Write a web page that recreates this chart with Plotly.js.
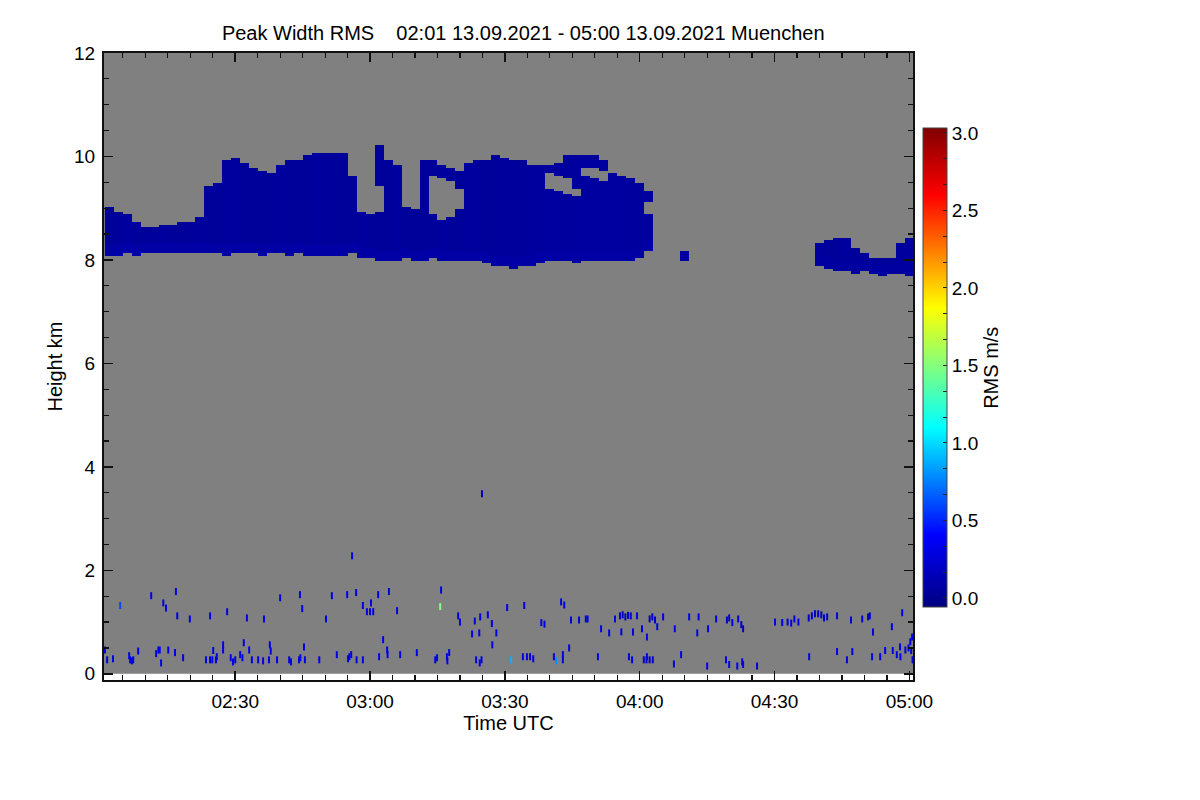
<!DOCTYPE html>
<html>
<head>
<meta charset="utf-8">
<script src="https://cdn.plot.ly/plotly-3.0.1.min.js"></script>
<style>
  html, body { margin: 0; padding: 0; background: #fff; }
  #chart { width: 1200px; height: 800px; }
</style>
</head>
<body>
<div id="chart"></div>
<script>
// time in minutes after 02:00 UTC, heights in km, values in m/s

// cloud layer, one column every 2 minutes (null = no cloud)
var cloudTime = [2,4,6,8,10,12,14,16,18,20,22,24,26,28,30,32,34,36,38,40,
  42,44,46,48,50,52,54,56,58,60,62,64,66,68,70,72,74,76,78,80,
  82,84,86,88,90,92,94,96,98,100,102,104,106,108,110,112,114,116,118,120,
  122,124,126,128,130,132,134,136,138,140,142,144,146,148,150,152,154,156,158,160,
  162,164,166,168,170,172,174,176,178,180];
var cloudTop = [9.02,8.93,8.87,8.74,8.62,8.64,8.66,8.68,8.70,8.72,
  8.80,9.40,9.45,9.94,9.95,9.88,9.78,9.70,9.68,9.84,
  9.90,9.94,10.03,10.07,10.07,10.07,10.05,9.60,8.92,8.88,
  10.20,9.90,9.84,9.00,8.98,9.94,9.90,9.82,9.76,9.72,
  9.88,9.90,9.90,10.03,9.96,9.94,9.90,9.84,9.80,9.84,
  9.86,10.00,10.03,10.03,10.00,9.94,9.68,9.62,9.58,9.46,
  9.32,null,null,null,8.18,null,null,null,null,null,
  null,null,null,null,null,null,null,null,null,8.33,
  8.36,8.43,8.41,8.20,8.10,8.04,8.00,8.02,8.33,8.42];
var cloudBase = [8.08,8.10,8.12,8.08,8.12,8.14,8.12,8.14,8.12,8.14,
  8.12,8.14,8.12,8.10,8.12,8.14,8.12,8.10,8.12,8.14,
  8.10,8.12,8.10,8.08,8.10,8.06,8.10,8.12,8.05,8.02,
  7.98,7.96,8.00,8.02,7.98,8.00,8.02,8.00,7.98,8.00,
  7.96,7.96,7.92,7.90,7.86,7.84,7.86,7.88,7.92,7.96,
  7.98,7.96,7.94,7.96,7.98,7.96,7.98,7.98,8.00,8.02,
  8.20,null,null,null,7.98,null,null,null,null,null,
  null,null,null,null,null,null,null,null,null,7.86,
  7.85,7.80,7.77,7.75,7.76,7.72,7.70,7.72,7.72,7.70];
// clear slots inside the cloud
var gapLo = [null,null,null,null,null,null,null,null,null,null,
  null,null,null,null,null,null,null,null,null,null,
  null,null,null,null,null,null,null,null,null,null,
  8.92,null,null,null,null,null,8.85,8.78,8.82,8.95,
  null,null,null,null,null,null,null,null,null,9.36,
  9.30,9.26,9.20,9.60,9.56,9.52,null,null,null,null,
  8.88,null,null,null,null,null,null,null,null,null,
  null,null,null,null,null,null,null,null,null,null,
  null,null,null,null,null,null,null,null,null,null];
var gapHi = [null,null,null,null,null,null,null,null,null,null,
  null,null,null,null,null,null,null,null,null,null,
  null,null,null,null,null,null,null,null,null,null,
  9.45,null,null,null,null,null,9.65,9.60,9.52,9.40,
  null,null,null,null,null,null,null,null,null,9.70,
  9.64,9.56,9.40,9.80,9.80,9.74,null,null,null,null,
  9.12,null,null,null,null,null,null,null,null,null,
  null,null,null,null,null,null,null,null,null,null,
  null,null,null,null,null,null,null,null,null,null];
// rms inside the cloud and in its lowest 0.2 km
var cloudRms = [0.04,0.04,0.05,0.04,0.04,0.04,0.05,0.04,0.04,0.04,
  0.05,0.04,0.04,0.04,0.05,0.04,0.04,0.04,0.04,0.05,
  0.04,0.04,0.04,0.05,0.04,0.04,0.04,0.04,0.05,0.04,
  0.04,0.04,0.05,0.04,0.04,0.04,0.04,0.05,0.04,0.04,
  0.05,0.04,0.04,0.04,0.05,0.04,0.04,0.05,0.05,0.06,
  0.06,0.05,0.05,0.06,0.06,0.05,0.06,0.06,0.05,0.05,
  0.05,null,null,null,0.05,null,null,null,null,null,
  null,null,null,null,null,null,null,null,null,0.05,
  0.04,0.04,0.05,0.04,0.04,0.05,0.04,0.04,0.05,0.05];
var baseRms = [0.08,0.09,0.08,0.08,0.07,0.07,0.08,0.07,0.07,0.07,
  0.07,0.08,0.07,0.07,0.07,0.08,0.07,0.07,0.07,0.07,
  0.07,0.07,0.07,0.08,0.07,0.07,0.07,0.07,0.07,0.07,
  0.08,0.07,0.07,0.07,0.07,0.07,0.08,0.07,0.07,0.07,
  0.07,0.07,0.07,0.07,0.07,0.08,0.07,0.07,0.07,0.07,
  0.07,0.08,0.07,0.07,0.07,0.07,0.07,0.07,0.07,0.07,
  0.07,null,null,null,0.06,null,null,null,null,null,
  null,null,null,null,null,null,null,null,null,0.06,
  0.06,0.06,0.06,0.06,0.06,0.06,0.06,0.06,0.06,0.06];

// isolated low-level returns
var spTime = [1.0,1.5,2.8,4.4,6.6,7.0,7.3,6.4,8.4,11.3,12.4,12.9,13.2,13.5,14.0,14.6,15.1,16.8,17.1,16.6,
  18.4,19.9,23.5,24.4,24.4,24.9,25.1,25.7,25.9,27.3,27.3,28.2,29.0,29.5,30.0,31.1,31.6,31.9,32.6,33.1,
  33.7,35.1,36.2,36.4,37.5,37.7,37.9,39.3,40.0,42.0,42.4,44.2,44.4,44.5,44.9,45.3,45.5,48.7,50.2,51.5,
  52.6,54.9,55.1,55.4,55.8,56.0,56.9,57.0,58.4,58.4,59.3,60.0,60.7,60.2,61.8,62.0,62.9,63.8,63.9,64.2,
  66.0,66.7,70.4,74.5,74.9,75.6,75.8,77.1,77.6,77.2,79.6,80.0,82.7,83.3,83.6,84.3,84.4,84.8,84.5,84.9,
  86.2,87.1,87.2,88.1,90.5,91.4,94.3,94.0,94.9,95.6,96.3,98.1,98.8,100.9,101.4,102.5,103.2,102.9,102.9,104.3,
  104.7,106.5,108.0,108.4,110.7,111.4,113.2,114.5,115.6,116.2,116.8,117.4,118.0,115.9,117.6,118.3,118.5,119.4,120.5,120.9,
  121.5,122.2,122.9,121.6,121.6,122.2,122.8,123.4,123.9,125.2,127.8,129.2,127.6,131.0,132.8,133.1,135.0,135.2,137.0,139.4,
  139.9,139.2,139.9,140.6,141.7,141.9,142.6,143.0,142.8,143.0,146.1,150.1,151.7,152.9,153.7,155.3,154.4,157.7,157.6,158.3,
  159.0,159.7,160.4,161.0,161.7,163.9,163.9,166.1,167.0,167.3,169.5,170.8,171.2,171.7,171.9,173.5,174.6,176.1,176.3,177.2,
  177.9,178.0,178.4,179.1,179.8,180.2,180.4,180.6,180.7];
var spHeight = [0.46,0.27,0.29,1.32,0.27,0.25,0.27,0.35,0.44,1.51,0.39,0.46,0.46,0.21,1.37,1.27,0.46,1.59,1.12,0.41,
  0.31,1.06,0.27,1.12,0.27,0.27,0.45,0.27,0.33,0.56,0.46,1.20,0.31,0.23,0.27,0.37,0.31,0.60,1.08,0.46,
  0.27,0.27,0.25,1.06,0.27,0.56,0.44,0.27,1.47,0.27,0.23,0.27,1.53,0.31,1.26,0.52,0.27,0.27,1.06,1.51,
  0.37,1.53,0.29,0.33,0.37,2.28,1.57,0.27,1.32,0.27,1.20,1.20,1.20,1.37,1.53,0.33,0.66,0.46,0.37,1.59,
  1.22,0.37,0.41,0.27,0.31,1.30,1.62,0.33,0.41,0.25,1.12,1.00,0.77,1.02,0.27,0.79,0.21,0.27,1.10,3.48,
  1.14,0.97,0.56,0.79,1.28,0.27,1.32,0.33,0.33,0.33,0.29,0.99,0.96,0.33,0.25,1.39,1.33,0.37,0.27,0.50,
  1.04,1.04,1.06,1.06,0.33,0.87,0.79,1.06,1.12,1.14,1.10,1.13,1.12,0.81,0.33,0.27,0.81,1.12,0.87,0.27,
  0.27,0.27,0.27,0.71,0.33,1.06,1.10,1.04,0.91,1.10,0.87,0.37,0.19,1.10,0.79,1.10,0.15,0.87,1.06,1.04,
  1.08,0.27,0.18,0.99,0.15,1.06,0.95,0.87,0.23,0.18,0.15,1.00,0.99,1.00,0.98,1.00,1.06,0.33,1.08,1.12,
  1.16,1.16,1.14,1.08,1.10,0.43,1.12,0.27,1.04,0.43,1.06,1.10,1.12,0.33,0.81,0.33,0.45,0.91,0.45,0.37,
  0.52,0.33,1.18,0.46,0.50,0.62,0.45,0.71,0.27];
var spRms = [0.3,0.3,0.3,0.6,0.3,0.3,0.3,0.3,0.3,0.3,0.3,0.3,0.3,0.3,0.3,0.3,0.3,0.3,0.25,0.3,
  0.3,0.3,0.3,0.3,0.3,0.3,0.3,0.3,0.3,0.3,0.3,0.3,0.3,0.3,0.3,0.3,0.3,0.3,0.3,0.3,
  0.3,0.3,0.3,0.3,0.3,0.3,0.3,0.3,0.3,0.3,0.3,0.3,0.3,0.3,0.3,0.3,0.3,0.3,0.3,0.3,
  0.3,0.3,0.3,0.3,0.3,0.3,0.3,0.3,0.3,0.3,0.3,0.3,0.3,0.3,0.3,0.3,0.3,0.3,0.3,0.3,
  0.3,0.3,0.3,0.3,0.3,1.5,0.3,0.3,0.3,0.3,0.3,0.3,0.3,0.3,0.3,0.3,0.3,0.3,0.3,0.15,
  0.3,0.3,0.3,0.3,0.3,0.9,0.3,0.3,0.3,0.3,0.3,0.3,0.3,0.3,0.8,0.3,0.3,0.3,0.3,0.3,
  0.3,0.3,0.3,0.3,0.3,0.3,0.3,0.3,0.2,0.2,0.2,0.2,0.2,0.3,0.3,0.3,0.3,0.3,0.3,0.2,
  0.2,0.2,0.2,0.3,0.3,0.2,0.2,0.2,0.3,0.3,0.3,0.3,0.3,0.3,0.3,0.3,0.3,0.3,0.3,0.2,
  0.2,0.3,0.3,0.3,0.3,0.3,0.2,0.2,0.3,0.3,0.3,0.3,0.3,0.3,0.3,0.3,0.3,0.3,0.2,0.2,
  0.2,0.2,0.2,0.2,0.2,0.3,0.3,0.3,0.3,0.3,0.3,0.2,0.2,0.3,0.3,0.3,0.3,0.3,0.3,0.3,
  0.3,0.3,0.3,0.3,0.3,0.3,0.3,0.3,0.3];

// axis ticks
var xTickVals = [30, 60, 90, 120, 150, 180];
var xTickText = ['02:30', '03:00', '03:30', '04:00', '04:30', '05:00'];
var yTickVals = [0, 2, 4, 6, 8, 10, 12];
var cbTickVals = [0,0.1667,0.3333,0.5,0.6667,0.8333,1,1.1667,1.3333,1.5,1.6667,1.8333,
  2,2.1667,2.3333,2.5,2.6667,2.8333,3];
var cbTickText = ['0.0','','','0.5','','','1.0','','','1.5','','','2.0','','','2.5','','','3.0'];

// height grid of the cloud image
var heightStep = 0.05;
var heights = [];
for (var k = 0; k <= 56; k++) heights.push(+(7.6 + k * heightStep).toFixed(3));

var z = heights.map(function (h) {
  return cloudTime.map(function (t, j) {
    if (cloudTop[j] === null) return null;
    if (h < cloudBase[j] || h > cloudTop[j]) return null;
    if (gapLo[j] !== null && h > gapLo[j] && h < gapHi[j]) return null;
    return (h < cloudBase[j] + 0.2) ? baseRms[j] : cloudRms[j];
  });
});

var font = 'Liberation Sans, Arial, Helvetica, sans-serif';

var traces = [
  {
    type: 'heatmap',
    x: cloudTime,
    y: heights,
    z: z,
    coloraxis: 'coloraxis',
    hoverinfo: 'skip'
  },
  {
    type: 'scatter',
    mode: 'markers',
    x: spTime,
    y: spHeight,
    marker: {
      symbol: 'line-ns',
      size: 5,
      line: { width: 2, color: spRms, coloraxis: 'coloraxis' }
    },
    hoverinfo: 'skip',
    showlegend: false
  }
];

var axisCommon = {
  showline: true,
  linecolor: '#111',
  linewidth: 2,
  mirror: 'ticks',
  ticks: 'inside',
  ticklen: 9,
  tickwidth: 1.5,
  tickcolor: '#111',
  showgrid: false,
  zeroline: false,
  tickfont: { family: font, size: 19, color: '#000' }
};

var layout = {
  width: 1200,
  height: 800,
  margin: { l: 104, r: 287, t: 53, b: 120 },
  paper_bgcolor: '#ffffff',
  plot_bgcolor: '#ffffff',
  font: { family: font, color: '#000' },
  showlegend: false,
  title: {
    text: 'Peak Width RMS\u00a0\u00a0\u00a0 02:01 13.09.2021 - 05:00 13.09.2021 Muenchen',
    font: { family: font, size: 20, color: '#000' },
    x: 0.436,
    xanchor: 'center',
    y: 0.959,
    yanchor: 'middle'
  },
  xaxis: Object.assign({}, axisCommon, {
    range: [0.8, 180.8],
    tickmode: 'array',
    tickvals: xTickVals,
    ticktext: xTickText,
    ticklabelstandoff: 3,
    minor: { tick0: 0, dtick: 5, ticks: 'inside', ticklen: 5, tickwidth: 1.2, tickcolor: '#111' },
    title: { text: 'Time UTC', font: { family: font, size: 20, color: '#000' }, standoff: 0 }
  }),
  yaxis: Object.assign({}, axisCommon, {
    range: [-0.12, 12],
    tickmode: 'array',
    tickvals: yTickVals,
    ticklabelstandoff: 3,
    minor: { tick0: 0, dtick: 0.5, ticks: 'inside', ticklen: 5, tickwidth: 1.2, tickcolor: '#111' },
    title: { text: 'Height km', font: { family: font, size: 20, color: '#000' }, standoff: 6 }
  }),
  coloraxis: {
    cmin: -0.06,
    cmax: 3.03,
    colorscale: [
      [0, '#000080'],
      [0.15, '#0000ff'],
      [0.375, '#00ffff'],
      [0.5, '#80ff80'],
      [0.625, '#ffff00'],
      [0.86, '#ff0000'],
      [1, '#800000']
    ],
    colorbar: {
      x: 1.0124,
      xanchor: 'left',
      xpad: 0,
      y: 0.498,
      yanchor: 'middle',
      ypad: 0,
      len: 0.764,
      lenmode: 'fraction',
      thickness: 24,
      thicknessmode: 'pixels',
      outlinewidth: 1,
      outlinecolor: '#444',
      tickmode: 'array',
      tickvals: cbTickVals,
      ticktext: cbTickText,
      ticks: 'inside',
      ticklen: 4,
      tickcolor: '#222',
      tickfont: { family: font, size: 19, color: '#000' },
      title: { text: 'RMS m/s', side: 'right', font: { family: font, size: 20, color: '#000' } }
    }
  },
  shapes: [
    {
      type: 'rect',
      xref: 'paper',
      yref: 'y',
      x0: 0, x1: 1,
      y0: 0, y1: 12,
      fillcolor: '#808080',
      line: { width: 0 },
      layer: 'below'
    }
  ]
};

Plotly.newPlot('chart', traces, layout, { staticPlot: true, displayModeBar: false });
</script>
</body>
</html>
